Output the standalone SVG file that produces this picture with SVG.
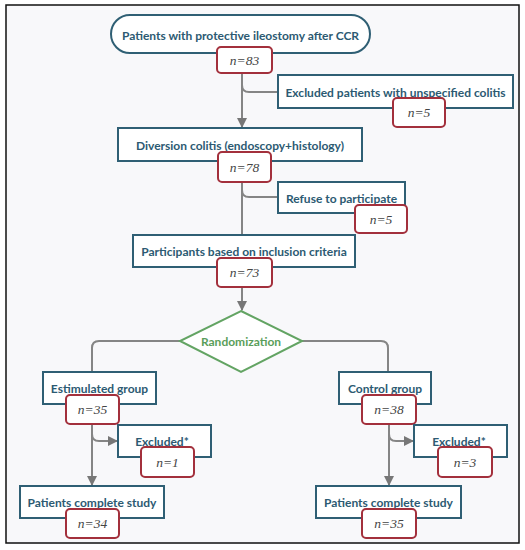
<svg xmlns="http://www.w3.org/2000/svg" width="525" height="550" viewBox="0 0 525 550">
<defs>
<style>
.nd{fill:#ffffff;stroke:#2f5f74;stroke-width:2}
.t{font-family:Lato,"Liberation Sans",sans-serif;font-weight:bold;font-size:12px;fill:#2c5a72;text-anchor:middle;dominant-baseline:central}
.nb{fill:#ffffff;stroke:#a3303c;stroke-width:2}
.n{font-family:"Liberation Serif",serif;font-style:italic;font-size:13.5px;fill:#444;text-anchor:middle;dominant-baseline:central}
.c{fill:none;stroke:#858585;stroke-width:2}
.g{fill:#ffffff;stroke:#63a463;stroke-width:2}
.gt{font-family:Lato,"Liberation Sans",sans-serif;font-weight:bold;font-size:12px;fill:#5a9e5a;text-anchor:middle;dominant-baseline:central}
</style>
<marker id="a" viewBox="0 0 10 10" refX="9" refY="5" markerWidth="5" markerHeight="5" orient="auto" markerUnits="strokeWidth">
<path d="M0,0 L10,5 L0,10 z" fill="#777"/>
</marker>
</defs>
<rect x="0" y="0" width="525" height="550" fill="#ffffff"/>
<rect x="6" y="5" width="513" height="538" fill="#f8f8fa" stroke="#111" stroke-width="1.5"/>
<g id="connectors">
<path class="c" d="M242,73 V127" marker-end="url(#a)"/>
<path class="c" d="M242,85 Q242,92 249,92 H278"/>
<path class="c" d="M242,182 V234"/>
<path class="c" d="M242,190 Q242,197 249,197 H278"/>
<path class="c" d="M242,287 V310" marker-end="url(#a)"/>
<path class="c" d="M180,341 H99 Q92,341 92,348 V372"/>
<path class="c" d="M302,341 H381 Q388,341 388,348 V372"/>
<path class="c" d="M92,424 V485" marker-end="url(#a)"/>
<path class="c" d="M92,434 Q92,441 99,441 H117" marker-end="url(#a)"/>
<path class="c" d="M389,424 V485" marker-end="url(#a)"/>
<path class="c" d="M389,434 Q389,441 396,441 H413" marker-end="url(#a)"/>
</g>
<g id="n1">
<rect class="nd" x="111" y="15" width="259" height="38" rx="19"/>
<text class="t" x="240.5" y="35">Patients with protective ileostomy after CCR</text>
<rect class="nb" x="217" y="47" width="55" height="26" rx="4"/>
<text class="n" x="244.5" y="60.5">n=83</text>
</g>
<g id="n2">
<rect class="nd" x="278" y="75" width="235" height="33"/>
<text class="t" x="395.5" y="92">Excluded patients with unspecified colitis</text>
<rect class="nb" x="393" y="98" width="52" height="29" rx="4"/>
<text class="n" x="419" y="112.5">n=5</text>
</g>
<g id="n3">
<rect class="nd" x="118" y="128" width="244" height="33"/>
<text class="t" x="240" y="145">Diversion colitis (endoscopy+histology)</text>
<rect class="nb" x="218" y="152" width="53" height="30" rx="4"/>
<text class="n" x="244.5" y="167">n=78</text>
</g>
<g id="n4">
<rect class="nd" x="278" y="182" width="127" height="31"/>
<text class="t" x="341.5" y="198.5">Refuse to participate</text>
<rect class="nb" x="355" y="205" width="52" height="28" rx="4"/>
<text class="n" x="381" y="219">n=5</text>
</g>
<g id="n5">
<rect class="nd" x="133" y="235" width="222" height="32"/>
<text class="t" x="244" y="251.5">Participants based on inclusion criteria</text>
<rect class="nb" x="217" y="258" width="55" height="29" rx="4"/>
<text class="n" x="244.5" y="272.5">n=73</text>
</g>
<g id="n6">
<polygon class="g" points="241,311 302,341 241,372 180,341"/>
<text class="gt" x="241" y="341.5">Randomization</text>
</g>
<g id="n7">
<rect class="nd" x="43" y="372" width="113" height="32"/>
<text class="t" x="99.5" y="388">Estimulated group</text>
<rect class="nb" x="66" y="395" width="53" height="29" rx="4"/>
<text class="n" x="92.5" y="409.5">n=35</text>
</g>
<g id="n8">
<rect class="nd" x="118" y="425" width="93" height="32"/>
<text class="t" x="162" y="441">Excluded*</text>
<rect class="nb" x="141" y="447" width="53" height="30" rx="4"/>
<text class="n" x="167.5" y="462">n=1</text>
</g>
<g id="n9">
<rect class="nd" x="20" y="486" width="144" height="32"/>
<text class="t" x="92" y="502.5">Patients complete study</text>
<rect class="nb" x="66" y="509" width="53" height="29" rx="4"/>
<text class="n" x="92.5" y="523.5">n=34</text>
</g>
<g id="n10">
<rect class="nd" x="339" y="372" width="92" height="32"/>
<text class="t" x="385" y="388">Control group</text>
<rect class="nb" x="362" y="395" width="54" height="29" rx="4"/>
<text class="n" x="389" y="409.5">n=38</text>
</g>
<g id="n11">
<rect class="nd" x="414" y="425" width="93" height="32"/>
<text class="t" x="459" y="441">Excluded*</text>
<rect class="nb" x="438" y="447" width="54" height="30" rx="4"/>
<text class="n" x="465" y="462">n=3</text>
</g>
<g id="n12">
<rect class="nd" x="316" y="486" width="145" height="32"/>
<text class="t" x="388.5" y="502.5">Patients complete study</text>
<rect class="nb" x="362" y="509" width="54" height="29" rx="4"/>
<text class="n" x="389" y="523.5">n=35</text>
</g>
</svg>
